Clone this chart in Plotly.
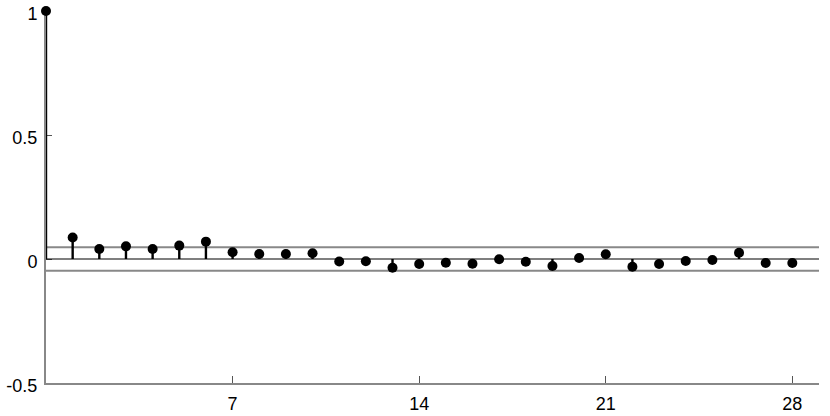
import plotly.graph_objects as go

lags = list(range(0, 29))
acf = [1.0, 0.087, 0.040, 0.051, 0.040, 0.054, 0.070, 0.027, 0.020, 0.020,
       0.023, -0.010, -0.009, -0.035, -0.020, -0.015, -0.019, -0.001, -0.011, -0.028,
       0.004, 0.019, -0.031, -0.020, -0.008, -0.004, 0.025, -0.016, -0.016]
conf_bound = 0.047
x_range = [0, 29]
y_range = [-0.5, 1]
x_ticks = [7, 14, 21, 28]
y_ticks = [-0.5, 0, 0.5, 1]
y_tick_labels = ["-0.5", "0", "0.5", "1"]

stem_x, stem_y = [], []
for l, v in zip(lags, acf):
    stem_x += [l, l, None]
    stem_y += [0, v, None]

fig = go.Figure()
for b in (conf_bound, -conf_bound):
    fig.add_trace(go.Scatter(x=x_range, y=[b, b], mode="lines",
                             line=dict(color="#888888", width=2),
                             hoverinfo="skip", showlegend=False))
fig.add_trace(go.Scatter(x=x_range, y=[0, 0], mode="lines",
                         line=dict(color="black", width=1.2),
                         hoverinfo="skip", showlegend=False))
fig.add_trace(go.Scatter(x=stem_x, y=stem_y, mode="lines",
                         line=dict(color="black", width=2.4),
                         showlegend=False, cliponaxis=False))
fig.add_trace(go.Scatter(x=lags, y=acf, mode="markers",
                         marker=dict(color="black", size=10),
                         showlegend=False, cliponaxis=False))

fig.update_layout(
    template="none",
    width=830, height=416,
    margin=dict(l=46, r=11, t=11, b=33, autoexpand=False),
    plot_bgcolor="white", paper_bgcolor="white",
    font=dict(family="Liberation Sans, Arial, sans-serif", size=18, color="black"),
    xaxis=dict(range=x_range, tickvals=x_ticks, ticks="inside", ticklen=7,
               tickcolor="#555555", tickwidth=1, showgrid=False, zeroline=False,
               showline=True, linecolor="#888888", linewidth=2, automargin=False,
               ticklabeloverflow="allow", ticklabelstandoff=3, layer="below traces"),
    yaxis=dict(range=y_range, tickvals=y_ticks, ticktext=y_tick_labels,
               ticks="inside", ticklen=6, tickcolor="#555555", tickwidth=1,
               showgrid=False, zeroline=False, ticklabelshift=3, ticklabelstandoff=3,
               showline=True, linecolor="#888888", linewidth=2, automargin=False,
               ticklabeloverflow="allow", layer="below traces"),
)

fig.write_html("out.html", config={"displayModeBar": False},
               post_script="document.body.style.margin='0';")
